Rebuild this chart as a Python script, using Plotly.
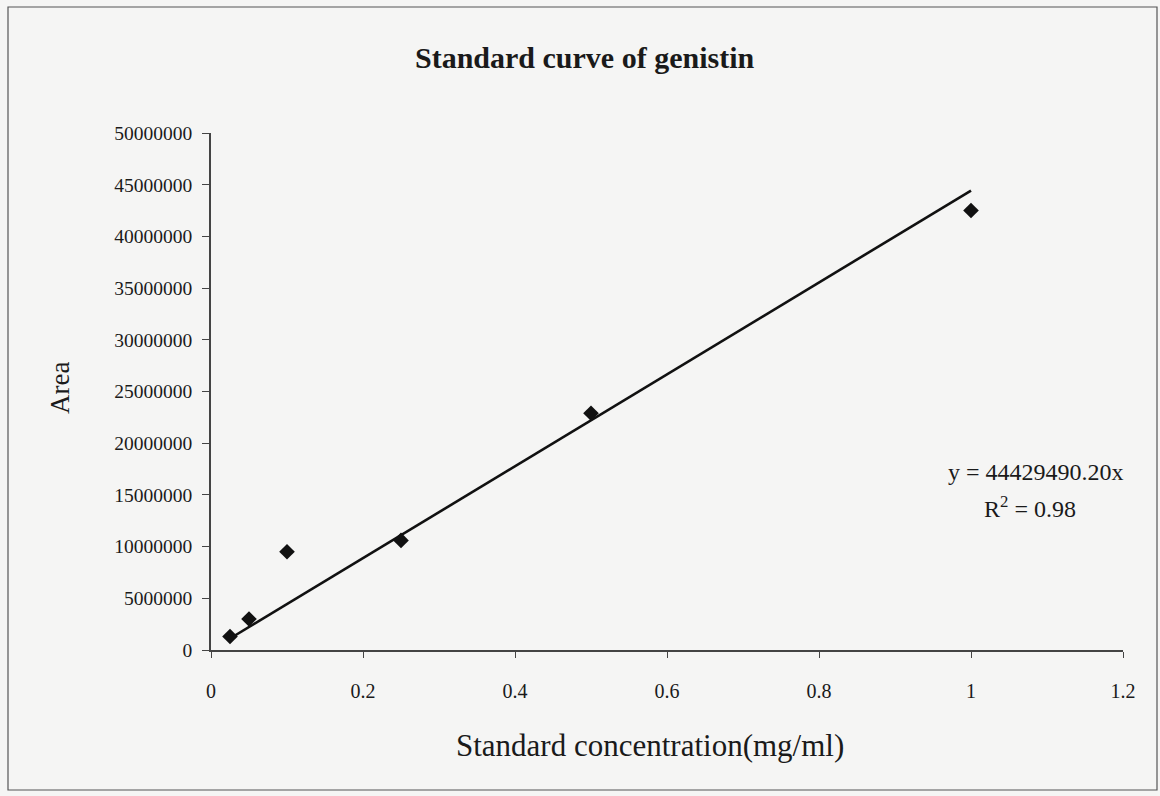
import plotly.graph_objects as go

# Standard solutions of genistin and their measured peak areas
concentration = [0.025, 0.05, 0.1, 0.25, 0.5, 1.0]
area = [1300000, 3000000, 9500000, 10600000, 22900000, 42500000]

# Linear trendline through the origin
slope = 44429490.20
r_squared = 0.98
fit_x = [min(concentration), max(concentration)]
fit_y = [slope * v for v in fit_x]

x_ticks = [0, 0.2, 0.4, 0.6, 0.8, 1.0, 1.2]
x_tick_text = ["0", "0.2", "0.4", "0.6", "0.8", "1", "1.2"]
y_ticks = list(range(0, 50000001, 5000000))
y_tick_text = [str(v) for v in y_ticks]

FONT = "Liberation Serif, Times New Roman, serif"
INK = "#1a1a1a"
PAPER = "#f5f5f4"

# plot-area geometry in pixels, used to place the free-floating labels
L, R, T, B = 211, 1123, 133, 650
PW, PH = R - L, B - T


def px(x):
    return (x - L) / PW


def py(y):
    return (B - y) / PH


fig = go.Figure()

fig.add_trace(go.Scatter(
    x=fit_x, y=fit_y, mode="lines",
    line=dict(color="#111111", width=2.6),
    hoverinfo="skip", showlegend=False,
))

fig.add_trace(go.Scatter(
    x=concentration, y=area, mode="markers",
    marker=dict(symbol="diamond", size=12, color="#111111"),
    showlegend=False,
))

fig.update_layout(
    width=1160, height=796,
    margin=dict(l=L, r=1160 - R, t=T, b=796 - B),
    paper_bgcolor=PAPER, plot_bgcolor=PAPER,
    font=dict(family=FONT, color=INK, size=19),
    showlegend=False,
    annotations=[
        dict(text="<b>Standard curve of genistin</b>", xref="paper", yref="paper",
             x=px(585), y=py(57),
             xanchor="center", yanchor="middle", showarrow=False,
             font=dict(size=30, family=FONT, color=INK)),
        dict(text="Standard concentration(mg/ml)", xref="paper", yref="paper",
             x=px(650), y=py(745),
             xanchor="center", yanchor="middle", showarrow=False,
             font=dict(size=31, family=FONT, color=INK)),
        dict(text="Area", xref="paper", yref="paper",
             x=px(60), y=py(388), textangle=-90,
             xanchor="center", yanchor="middle", showarrow=False,
             font=dict(size=27, family=FONT, color=INK)),
        dict(text=f"y = {slope:.2f}x", xref="paper", yref="paper",
             x=px(1036), y=py(472),
             xanchor="center", yanchor="middle", showarrow=False,
             font=dict(size=24, family=FONT, color=INK)),
        dict(text=f"R<sup>2</sup> = {r_squared:.2f}", xref="paper", yref="paper",
             x=px(1030), y=py(507),
             xanchor="center", yanchor="middle", showarrow=False,
             font=dict(size=24, family=FONT, color=INK)),
    ],
    shapes=[
        dict(type="rect", xref="paper", yref="paper",
             x0=px(8), x1=px(1157), y0=py(790), y1=py(7),
             line=dict(color="#555555", width=1.2), layer="below"),
    ],
)

fig.update_xaxes(
    range=[0, 1.2], tickvals=x_ticks, ticktext=x_tick_text,
    showgrid=False, zeroline=False,
    showline=True, linecolor="#444444", linewidth=1.5,
    ticks="outside", ticklen=6, tickcolor="#444444", tickwidth=1.3,
    ticklabelstandoff=16,
    tickfont=dict(size=20, family=FONT, color=INK),
)

fig.update_yaxes(
    range=[0, 50000000], tickvals=y_ticks, ticktext=y_tick_text,
    showgrid=False, zeroline=False,
    showline=True, linecolor="#444444", linewidth=1.5,
    ticks="outside", ticklen=7, tickcolor="#444444", tickwidth=1.3,
    ticklabelstandoff=6,
    tickfont=dict(size=19.5, family=FONT, color=INK),
)

fig.write_html("out.html")
